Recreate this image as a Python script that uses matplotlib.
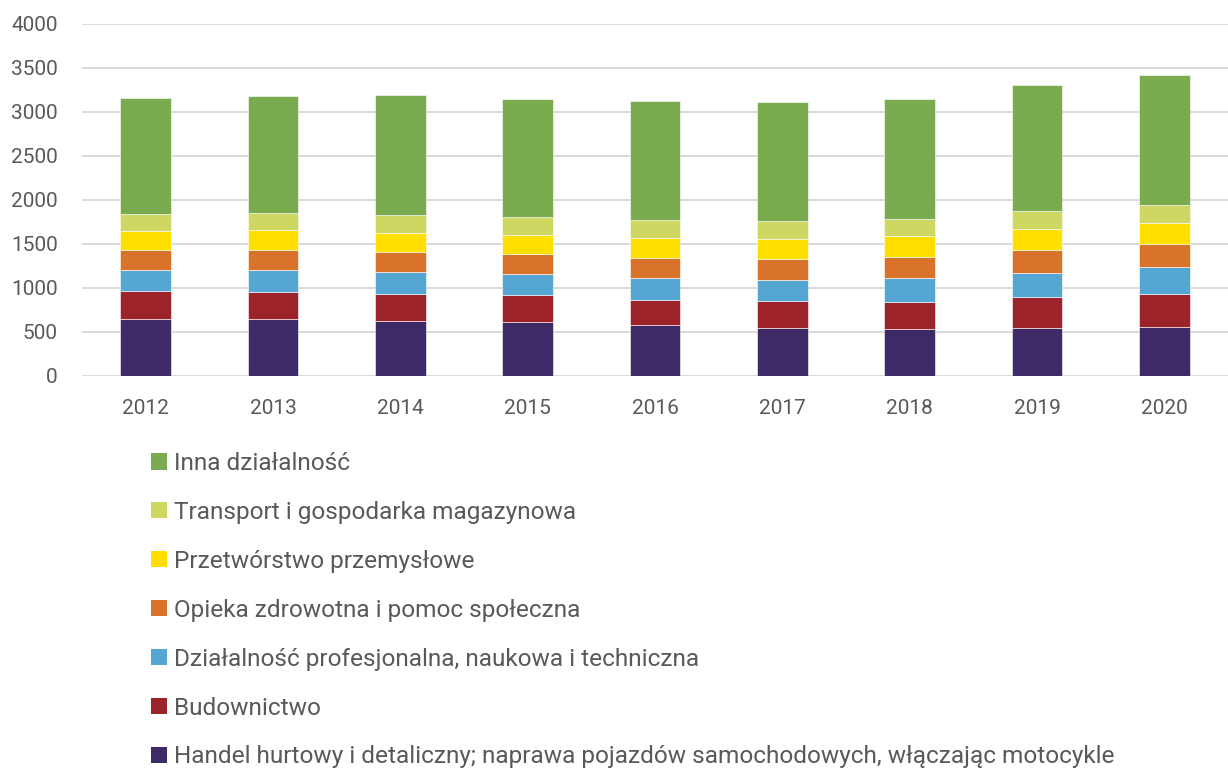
import numpy as np
import matplotlib.pyplot as plt
from matplotlib.patches import Patch

plt.rcParams['font.family'] = ['Roboto', 'DejaVu Sans']

years = ["2012", "2013", "2014", "2015", "2016", "2017", "2018", "2019", "2020"]

handel = [644, 644, 625, 606, 572, 538, 527, 538, 549]
budownictwo = [322, 311, 307, 307, 292, 307, 314, 352, 375]
profesjonalna = [239, 242, 242, 239, 250, 246, 265, 280, 307]
opieka = [223, 231, 235, 234, 227, 235, 246, 262, 269]
przetworstwo = [212, 224, 212, 213, 227, 231, 235, 235, 235]
transport = [197, 200, 205, 204, 201, 204, 197, 204, 201]
inna = [1315, 1330, 1360, 1345, 1352, 1353, 1360, 1432, 1481]

labels = [
    "Handel hurtowy i detaliczny; naprawa pojazdów samochodowych, włączając motocykle",
    "Budownictwo",
    "Działalność profesjonalna, naukowa i techniczna",
    "Opieka zdrowotna i pomoc społeczna",
    "Przetwórstwo przemysłowe",
    "Transport i gospodarka magazynowa",
    "Inna działalność",
]
colors = ["#3f2a68", "#9c232a", "#55a6d3", "#d9732c", "#ffdf00", "#cdd762", "#7aab4f"]
series = [handel, budownictwo, profesjonalna, opieka, przetworstwo, transport, inna]

text_color = "#595959"

fig = plt.figure(figsize=(12.28, 7.71), dpi=100)
ax = fig.add_axes([0.0668, 0.5127, 0.9332, 0.4566])

x = np.arange(len(years))
bottom = np.zeros(len(years))
for vals, col in zip(series, colors):
    ax.bar(x, vals, width=0.4, bottom=bottom, color=col, edgecolor="white",
           linewidth=0.4, zorder=3)
    bottom += np.array(vals)

ax.set_xlim(-0.5, len(years) - 0.5)
ax.set_ylim(0, 4000)
ax.set_yticks(np.arange(0, 4001, 500))
ax.set_xticks(x)
ax.set_xticklabels(years)
ax.yaxis.grid(True, color="#d9d9d9", linewidth=1.4, zorder=0)
ax.tick_params(axis="both", length=0, labelsize=15, colors=text_color)
ax.tick_params(axis="x", pad=16.5)
ax.tick_params(axis="y", pad=17.5)
for s in ax.spines.values():
    s.set_visible(False)

# legend in one column under the plot, top entry = top of the stack
handles = [Patch(facecolor=c, edgecolor="none") for c in colors]
fig.legend(handles[::-1], labels[::-1], loc="upper left",
           bbox_to_anchor=(151 / 1228, 1 - 452 / 771), frameon=False,
           fontsize=17.6, labelcolor=text_color, borderpad=0, borderaxespad=0,
           handlelength=0.65, handleheight=0.65, handletextpad=0.28,
           labelspacing=1.06)

fig.savefig("out.png", dpi=100)
